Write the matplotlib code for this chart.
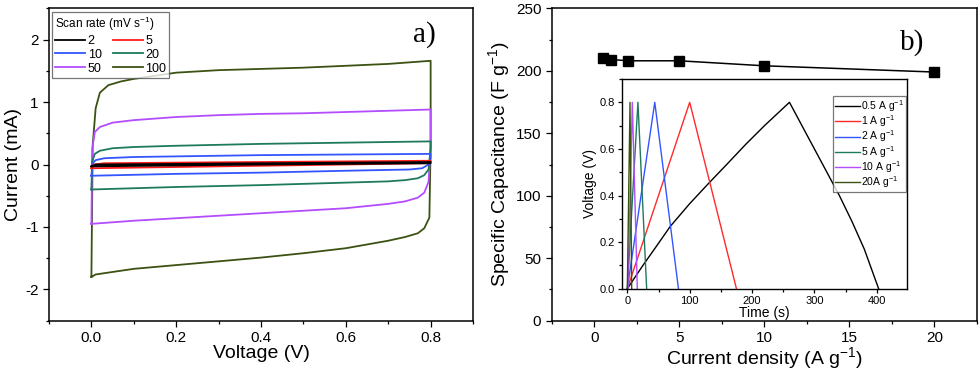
import matplotlib
matplotlib.use('Agg')
import matplotlib.pyplot as plt
from matplotlib.ticker import MultipleLocator

plt.rcParams['font.family'] = ['Liberation Sans', 'DejaVu Sans']
plt.rcParams['mathtext.fontset'] = 'custom'
plt.rcParams['mathtext.rm'] = 'Liberation Sans'
plt.rcParams['mathtext.it'] = 'Liberation Sans'
plt.rcParams['axes.unicode_minus'] = False

# ---- panel a: CV loops (voltage V, current mA) ----
rates = ['2', '5', '10', '20', '50', '100']
cv_colors = ['#000000', '#ff1a1a', '#3355ff', '#1e7a5c', '#b44cff', '#3b5212']

v2 = [0.0, 0.01, 0.4, 0.8, 0.8, 0.4, 0.0]
i2 = [-0.03, 0.0, 0.02, 0.04, 0.02, 0.0, -0.03]

v5 = [0.0, 0.005, 0.03, 0.2, 0.4, 0.6, 0.8, 0.8, 0.79, 0.6, 0.4, 0.2, 0.0]
i5 = [-0.06, 0.0, 0.02, 0.03, 0.04, 0.05, 0.06, 0.04, 0.02, 0.0, -0.02, -0.04, -0.06]

v10 = [0.0, 0.003, 0.01, 0.03, 0.1, 0.2, 0.4, 0.6, 0.8, 0.8, 0.795, 0.78, 0.75, 0.6, 0.4, 0.2, 0.0]
i10 = [-0.18, 0.02, 0.07, 0.10, 0.12, 0.13, 0.15, 0.16, 0.17, 0.10, 0.0, -0.06, -0.08, -0.10, -0.13, -0.15, -0.18]

v20 = [0.0, 0.002, 0.008, 0.02, 0.05, 0.1, 0.2, 0.4, 0.6, 0.8, 0.8, 0.795, 0.785, 0.77, 0.74, 0.7, 0.6, 0.4, 0.2, 0.0]
i20 = [-0.40, 0.05, 0.17, 0.22, 0.26, 0.28, 0.30, 0.33, 0.35, 0.37, 0.25, -0.08, -0.17, -0.22, -0.25, -0.27, -0.29, -0.33, -0.36, -0.40]

v50 = [0.0, 0.002, 0.008, 0.02, 0.05, 0.1, 0.2, 0.3, 0.4, 0.5, 0.6, 0.7, 0.8, 0.8, 0.795, 0.785, 0.77, 0.74,
       0.7, 0.6, 0.5, 0.4, 0.3, 0.2, 0.1, 0.0]
i50 = [-0.95, 0.25, 0.52, 0.60, 0.67, 0.71, 0.76, 0.79, 0.81, 0.82, 0.84, 0.86, 0.88, 0.3, -0.28, -0.45, -0.53, -0.59,
       -0.63, -0.70, -0.74, -0.78, -0.82, -0.86, -0.90, -0.95]

v100 = [0.0, 0.003, 0.01, 0.02, 0.04, 0.07, 0.1, 0.2, 0.3, 0.4, 0.5, 0.6, 0.7, 0.8, 0.8, 0.797, 0.785, 0.77,
        0.74, 0.7, 0.6, 0.5, 0.4, 0.3, 0.2, 0.1, 0.05, 0.01, 0.0]
i100 = [-1.80, 0.3, 0.9, 1.15, 1.27, 1.33, 1.37, 1.47, 1.51, 1.53, 1.55, 1.58, 1.61, 1.66, 0.3, -0.85, -1.02, -1.10,
        -1.16, -1.22, -1.34, -1.42, -1.49, -1.55, -1.61, -1.67, -1.72, -1.76, -1.80]

cv_v = [v2, v5, v10, v20, v50, v100]
cv_i = [i2, i5, i10, i20, i50, i100]

# ---- panel b: specific capacitance ----
cur_density = [0.5, 1, 2, 5, 10, 20]
capacitance = [210, 209, 208, 208, 204, 199]

# ---- inset: charge/discharge curves ----
gcd_labels = ['0.5 A g$^{-1}$', '1 A g$^{-1}$', '2 A g$^{-1}$', '5 A g$^{-1}$', '10 A g$^{-1}$', '20A g$^{-1}$']
gcd_colors = ['#000000', '#ff2a2a', '#3355ff', '#1e7a5c', '#b44cff', '#3b5212']
t05 = [0, 25, 50, 69, 100, 131, 160, 190, 220, 260, 280, 300, 320, 340, 360, 380, 403]
u05 = [0, 0.10, 0.195, 0.268, 0.365, 0.454, 0.535, 0.62, 0.70, 0.80, 0.70, 0.60, 0.50, 0.40, 0.29, 0.17, 0.0]
t1 = [0, 100, 175]
u1 = [0, 0.8, 0]
t2 = [0, 44, 82]
u2 = [0, 0.8, 0]
t5 = [0, 17, 31]
u5 = [0, 0.8, 0]
t10 = [1, 8, 16]
u10 = [0, 0.8, 0]
t20 = [0, 4.3, 7]
u20 = [0, 0.8, 0]
gcd_t = [t05, t1, t2, t5, t10, t20]
gcd_u = [u05, u1, u2, u5, u10, u20]

fig = plt.figure(figsize=(9.8, 3.71), dpi=100)
ax1 = fig.add_axes([0.05, 0.1356, 0.4327, 0.842])
ax2 = fig.add_axes([0.563, 0.1356, 0.4337, 0.842])
ins = fig.add_axes([0.6344, 0.2218, 0.2908, 0.5652])


def style(ax, size, major=4, minor=2.5):
    ax.tick_params(which='both', direction='out', top=False, right=False, labelsize=size, width=0.9)
    ax.tick_params(which='major', length=major)
    ax.tick_params(which='minor', length=minor)
    for s in ax.spines.values():
        s.set_linewidth(1.1)


lines = {}
for k in range(len(rates) - 1, -1, -1):
    lines[rates[k]], = ax1.plot(cv_v[k], cv_i[k], color=cv_colors[k], lw=1.3, label=rates[k], zorder=10 - k)
ax1.set_xlim(-0.1, 0.9)
ax1.set_ylim(-2.5, 2.5)
ax1.xaxis.set_major_locator(MultipleLocator(0.2))
ax1.xaxis.set_minor_locator(MultipleLocator(0.1))
ax1.yaxis.set_major_locator(MultipleLocator(1))
ax1.yaxis.set_minor_locator(MultipleLocator(0.5))
ax1.set_xticklabels([''] + ['%.1f' % v for v in ax1.get_xticks()[1:]])
ax1.set_xlabel('Voltage (V)', fontsize=14, labelpad=0)
ax1.set_ylabel('Current (mA)', fontsize=14, labelpad=2)
style(ax1, 11)
# legend filled row by row: 2 5 / 10 20 / 50 100
leg_order = ['2', '10', '50', '5', '20', '100']
leg = ax1.legend([lines[r] for r in leg_order], leg_order, ncol=2, loc='upper left',
                 bbox_to_anchor=(0.007, 0.989), borderaxespad=0, fontsize=9,
                 title='Scan rate (mV s$^{-1}$)', title_fontsize=8.5, alignment='left',
                 frameon=True, fancybox=False, edgecolor='#555555', handlelength=2.4,
                 handletextpad=0.2, columnspacing=0.9, labelspacing=0.15, borderpad=0.25)
leg.get_frame().set_linewidth(0.9)
ax1.text(0.885, 0.915, 'a)', transform=ax1.transAxes, fontsize=21, family='Liberation Serif',
         ha='center', va='center')

ax2.plot(cur_density, capacitance, color='black', lw=1.1, marker='s', markersize=6.5)
ax2.set_xlim(-2.5, 22.5)
ax2.set_ylim(0, 250)
ax2.xaxis.set_major_locator(MultipleLocator(5))
ax2.xaxis.set_minor_locator(MultipleLocator(2.5))
ax2.yaxis.set_major_locator(MultipleLocator(50))
ax2.yaxis.set_minor_locator(MultipleLocator(25))
ax2.set_xlabel('Current density (A g$^{-1}$)', fontsize=14, labelpad=0)
ax2.set_ylabel('Specific Capacitance (F g$^{-1}$)', fontsize=14, labelpad=3)
style(ax2, 11)
ax2.text(0.848, 0.889, 'b)', transform=ax2.transAxes, fontsize=21, family='Liberation Serif',
         ha='center', va='center')

for k in range(len(gcd_labels)):
    ins.plot(gcd_t[k], gcd_u[k], color=gcd_colors[k], lw=1.0, label=gcd_labels[k])
ins.set_xlim(-9, 448)
ins.set_ylim(0, 0.9)
ins.xaxis.set_major_locator(MultipleLocator(100))
ins.xaxis.set_minor_locator(MultipleLocator(50))
ins.yaxis.set_major_locator(MultipleLocator(0.2))
ins.yaxis.set_minor_locator(MultipleLocator(0.1))
ins.yaxis.set_major_formatter(plt.FormatStrFormatter('%.1f'))
ins.set_xlabel('Time (s)', fontsize=10, labelpad=0)
ins.set_ylabel('Voltage (V)', fontsize=10, labelpad=2)
style(ins, 8, major=3, minor=2)
ins.tick_params(pad=2)
for s in ins.spines.values():
    s.set_linewidth(1.0)
leg2 = ins.legend(loc='upper left', bbox_to_anchor=(0.741, 0.92), borderaxespad=0, fontsize=7.5,
                  frameon=True, fancybox=False, edgecolor='#555555', handlelength=2.4,
                  handletextpad=0.1, labelspacing=-0.05, borderpad=0.2)
leg2.get_frame().set_linewidth(0.9)

fig.savefig('out.png', dpi=100)
